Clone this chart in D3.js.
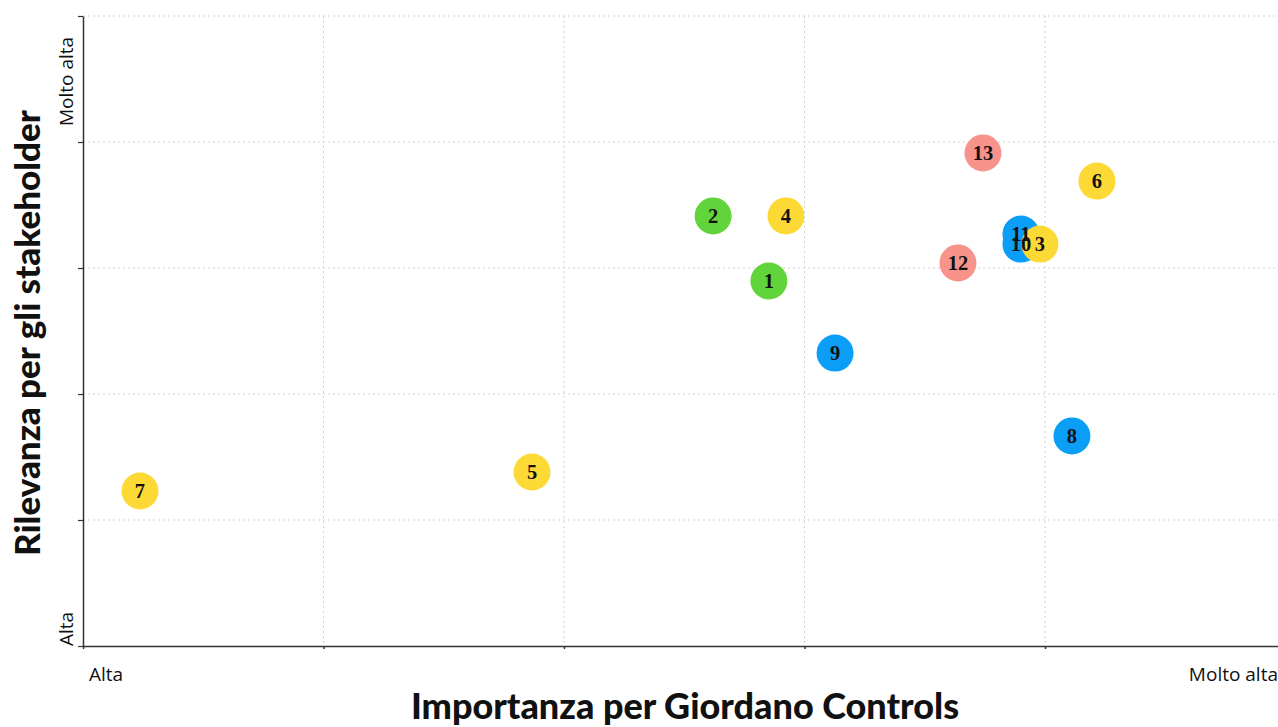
<!DOCTYPE html>
<html><head><meta charset="utf-8">
<script src="https://cdn.jsdelivr.net/npm/d3@7"></script>
<style>body{margin:0;background:#fff}svg{display:block}</style>
</head><body>
<svg id="c" width="1278" height="727"></svg>
<script>
const labels = ["1","2","4","9","13","6","12","11","10","3","8","5","7"];
const xValues = [2.852,2.620,2.923,3.127,3.742,4.216,3.638,3.900,3.900,3.979,4.112,1.867,0.237];
const yValues = [2.897,3.413,3.413,2.325,3.913,3.690,3.040,3.270,3.190,3.190,1.667,1.381,1.230];
const groups = ["green","green","yellow","blue","salmon","yellow","salmon","blue","blue","yellow","blue","yellow","yellow"];
const groupNames = ["green","yellow","blue","salmon"];
const groupColors = ["#62d43b","#fdd935","#0a9ef7","#f8938b"];
const gridTicks = [0,1,2,3,4,5];
const xTickLabels = ["Alta","Molto alta"];
const yTickLabels = ["Alta","Molto alta"];
const xTitle = "Importanza per Giordano Controls";
const yTitle = "Rilevanza per gli stakeholder";

const svg = d3.select("#c");
const x = d3.scaleLinear().domain([0,5]).range([83,1285.5]);
const y = d3.scaleLinear().domain([0,5]).range([646,16]);
const color = d3.scaleOrdinal().domain(groupNames).range(groupColors);

// grid
svg.append("g").selectAll("line").data(gridTicks.slice(1)).join("line")
  .attr("x1",d=>x(d)).attr("x2",d=>x(d)).attr("y1",16).attr("y2",646)
  .attr("stroke","#cfcfcf").attr("stroke-dasharray","2,3");
svg.append("g").selectAll("line").data(gridTicks.slice(1)).join("line")
  .attr("x1",83).attr("x2",1278).attr("y1",d=>y(d)).attr("y2",d=>y(d))
  .attr("stroke","#cfcfcf").attr("stroke-dasharray","2,3");

// axes
const xAxis = svg.append("g").attr("transform","translate(0,646)")
  .call(d3.axisBottom(x).tickValues(gridTicks).tickFormat("").tickSize(3).tickSizeOuter(0));
xAxis.select(".domain").attr("stroke","#333").attr("stroke-width",1.5);
xAxis.selectAll(".tick line").attr("stroke","#333").attr("stroke-width",1.5);
const yAxis = svg.append("g").attr("transform","translate(83,0)")
  .call(d3.axisLeft(y).tickValues(gridTicks).tickFormat("").tickSize(5).tickSizeOuter(0));
yAxis.select(".domain").attr("stroke","#333").attr("stroke-width",1.5);
yAxis.selectAll(".tick line").attr("stroke","#333").attr("stroke-width",1.2);

const tickFont = "'Open Sans', Lato, sans-serif";
const tfs = 19;
// x tick labels
svg.append("text").attr("x",x(0)+6).attr("y",681).attr("font-family",tickFont).attr("font-size",tfs).attr("fill","#111").text(xTickLabels[0]);
svg.append("text").attr("x",1278).attr("y",681).attr("text-anchor","end").attr("font-family",tickFont).attr("font-size",tfs).attr("fill","#111").text(xTickLabels[1]);
// y tick labels
svg.append("text").attr("transform",`translate(73,${y(0)}) rotate(-90)`).attr("font-family",tickFont).attr("font-size",tfs).attr("fill","#111").text(yTickLabels[0]);
svg.append("text").attr("transform",`translate(73,${y(5)+110}) rotate(-90)`).attr("font-family",tickFont).attr("font-size",tfs).attr("fill","#111").text(yTickLabels[1]);

// titles
svg.append("text").attr("x",685).attr("y",719).attr("text-anchor","middle")
  .attr("font-family","Lato, 'Open Sans', sans-serif").attr("font-weight","900").attr("font-size",36).attr("fill","#111").text(xTitle);
svg.append("text").attr("transform","translate(40,333) rotate(-90)").attr("text-anchor","middle")
  .attr("font-family","Lato, 'Open Sans', sans-serif").attr("font-weight","900").attr("font-size",35).attr("fill","#111").text(yTitle);

const idx = d3.range(labels.length);
svg.append("g").selectAll("circle").data(idx).join("circle")
  .attr("cx",i=>x(xValues[i])).attr("cy",i=>y(yValues[i])).attr("r",18.5)
  .attr("fill",i=>color(groups[i]));
svg.append("g").selectAll("text").data(idx).join("text")
  .attr("x",i=>x(xValues[i])).attr("y",i=>y(yValues[i])+7)
  .attr("text-anchor","middle").attr("font-family","'Liberation Serif', serif").attr("font-weight","bold")
  .attr("font-size",20.5).attr("fill","#111").text(i=>labels[i]);
</script>
</body></html>
